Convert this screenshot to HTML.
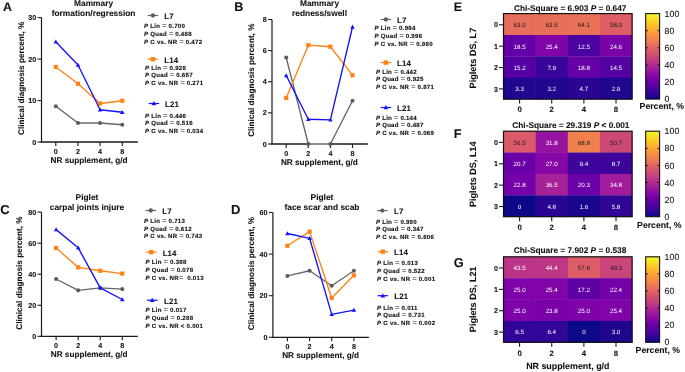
<!DOCTYPE html>
<html><head><meta charset="utf-8"><style>
html,body{margin:0;padding:0;background:#fff;}
svg{display:block;font-family:"Liberation Sans", sans-serif;will-change:transform;text-rendering:geometricPrecision;}
</style></head><body>
<svg width="685" height="372" viewBox="0 0 685 372">
<line x1="41.5" y1="17.6" x2="41.5" y2="142.6" stroke="#1a1a1a" stroke-width="1.2"/>
<line x1="40.9" y1="142" x2="137.8" y2="142" stroke="#1a1a1a" stroke-width="1.3"/>
<line x1="37.5" y1="142.00" x2="41.5" y2="142.00" stroke="#1a1a1a" stroke-width="1.1"/>
<text x="36.20" y="144.60" font-size="7.2" font-weight="bold" text-anchor="end" fill="#111" stroke="#111" stroke-width="0.08" >0</text>
<line x1="37.5" y1="100.53" x2="41.5" y2="100.53" stroke="#1a1a1a" stroke-width="1.1"/>
<text x="36.20" y="103.13" font-size="7.2" font-weight="bold" text-anchor="end" fill="#111" stroke="#111" stroke-width="0.08" >10</text>
<line x1="37.5" y1="59.07" x2="41.5" y2="59.07" stroke="#1a1a1a" stroke-width="1.1"/>
<text x="36.20" y="61.67" font-size="7.2" font-weight="bold" text-anchor="end" fill="#111" stroke="#111" stroke-width="0.08" >20</text>
<line x1="37.5" y1="17.60" x2="41.5" y2="17.60" stroke="#1a1a1a" stroke-width="1.1"/>
<text x="36.20" y="20.20" font-size="7.2" font-weight="bold" text-anchor="end" fill="#111" stroke="#111" stroke-width="0.08" >30</text>
<line x1="55.8" y1="142" x2="55.8" y2="146" stroke="#1a1a1a" stroke-width="1.1"/>
<text x="55.80" y="153.80" font-size="7.2" font-weight="bold" text-anchor="middle" fill="#111" stroke="#111" stroke-width="0.08" >0</text>
<line x1="78.0" y1="142" x2="78.0" y2="146" stroke="#1a1a1a" stroke-width="1.1"/>
<text x="78.00" y="153.80" font-size="7.2" font-weight="bold" text-anchor="middle" fill="#111" stroke="#111" stroke-width="0.08" >2</text>
<line x1="100.1" y1="142" x2="100.1" y2="146" stroke="#1a1a1a" stroke-width="1.1"/>
<text x="100.10" y="153.80" font-size="7.2" font-weight="bold" text-anchor="middle" fill="#111" stroke="#111" stroke-width="0.08" >4</text>
<line x1="122.3" y1="142" x2="122.3" y2="146" stroke="#1a1a1a" stroke-width="1.1"/>
<text x="122.30" y="153.80" font-size="7.2" font-weight="bold" text-anchor="middle" fill="#111" stroke="#111" stroke-width="0.08" >8</text>
<text x="89.05" y="162.70" font-size="8.2" font-weight="bold" text-anchor="middle" fill="#111" stroke="#111" stroke-width="0.08" >NR supplement, g/d</text>
<text transform="translate(23.70,78.30) rotate(-90)" font-size="8.2" font-weight="bold" text-anchor="middle" fill="#111" stroke="#111" stroke-width="0.08">Clinical diagnosis percent, %</text>
<text x="93.60" y="5.90" font-size="8.4" font-weight="bold" text-anchor="middle" fill="#111" stroke="#111" stroke-width="0.08" >Mammary</text>
<text x="93.60" y="15.50" font-size="8.4" font-weight="bold" text-anchor="middle" fill="#111" stroke="#111" stroke-width="0.08" >formation/regression</text>
<text x="3.00" y="10.90" font-size="12.4" font-weight="bold" text-anchor="start" fill="#111" stroke="#111" stroke-width="0.08" >A</text>
<polyline points="55.80,106.26 78.00,123.01 100.10,123.01 122.30,124.75" fill="none" stroke="#666666" stroke-width="1.35" stroke-linejoin="round"/>
<line x1="78.00" y1="123.01" x2="100.10" y2="123.01" stroke="#969696" stroke-width="1.7"/>
<circle cx="55.80" cy="106.26" r="2.05" fill="#5c5c5c"/>
<circle cx="78.00" cy="123.01" r="2.05" fill="#5c5c5c"/>
<circle cx="100.10" cy="123.01" r="2.05" fill="#5c5c5c"/>
<circle cx="122.30" cy="124.75" r="2.05" fill="#5c5c5c"/>
<polyline points="55.80,66.99 78.00,83.74 100.10,103.52 122.30,100.74" fill="none" stroke="#ff8214" stroke-width="1.35" stroke-linejoin="round"/>
<rect x="53.70" y="64.89" width="4.20" height="4.20" fill="#ff8214"/>
<rect x="75.90" y="81.64" width="4.20" height="4.20" fill="#ff8214"/>
<rect x="98.00" y="101.42" width="4.20" height="4.20" fill="#ff8214"/>
<rect x="120.20" y="98.64" width="4.20" height="4.20" fill="#ff8214"/>
<polyline points="55.80,41.78 78.00,65.00 100.10,109.74 122.30,112.27" fill="none" stroke="#1212ff" stroke-width="1.35" stroke-linejoin="round"/>
<polygon points="55.80,39.41 58.05,43.46 53.55,43.46" fill="#1212ff"/>
<polygon points="78.00,62.63 80.25,66.68 75.75,66.68" fill="#1212ff"/>
<polygon points="100.10,107.38 102.35,111.43 97.85,111.43" fill="#1212ff"/>
<polygon points="122.30,109.91 124.55,113.96 120.05,113.96" fill="#1212ff"/>
<line x1="147.7" y1="15.5" x2="158.2" y2="15.5" stroke="#666666" stroke-width="1.2"/>
<circle cx="152.90" cy="15.50" r="2.15" fill="#5c5c5c"/>
<text x="164.30" y="18.80" font-size="7.9" font-weight="bold" text-anchor="start" fill="#111" stroke="#111" stroke-width="0.08" letter-spacing="0.1">L7</text>
<text x="144.1" y="28.40" font-size="6.1" font-weight="bold" fill="#111" stroke="#111" stroke-width="0.12" letter-spacing="0.25" xml:space="preserve"><tspan font-style="italic">P</tspan> Lin <tspan font-size="7.2" font-weight="normal">=</tspan> 0.700</text>
<text x="144.1" y="36.00" font-size="6.1" font-weight="bold" fill="#111" stroke="#111" stroke-width="0.12" letter-spacing="0.25" xml:space="preserve"><tspan font-style="italic">P</tspan> Quad <tspan font-size="7.2" font-weight="normal">=</tspan> 0.488</text>
<text x="144.1" y="43.50" font-size="6.1" font-weight="bold" fill="#111" stroke="#111" stroke-width="0.12" letter-spacing="0.25" xml:space="preserve"><tspan font-style="italic">P</tspan> C vs. NR <tspan font-size="7.2" font-weight="normal">=</tspan> 0.472</text>
<line x1="147.7" y1="59.2" x2="158.2" y2="59.2" stroke="#ff8214" stroke-width="1.2"/>
<rect x="150.69" y="57.00" width="4.41" height="4.41" fill="#ff8214"/>
<text x="164.30" y="62.50" font-size="7.9" font-weight="bold" text-anchor="start" fill="#111" stroke="#111" stroke-width="0.08" letter-spacing="0.1">L14</text>
<text x="145.1" y="70.10" font-size="6.1" font-weight="bold" fill="#111" stroke="#111" stroke-width="0.12" letter-spacing="0.25" xml:space="preserve"><tspan font-style="italic">P</tspan> Lin <tspan font-size="7.2" font-weight="normal">=</tspan> 0.928</text>
<text x="145.1" y="77.25" font-size="6.1" font-weight="bold" fill="#111" stroke="#111" stroke-width="0.12" letter-spacing="0.25" xml:space="preserve"><tspan font-style="italic">P</tspan> Quad <tspan font-size="7.2" font-weight="normal">=</tspan> 0.657</text>
<text x="145.1" y="84.90" font-size="6.1" font-weight="bold" fill="#111" stroke="#111" stroke-width="0.12" letter-spacing="0.25" xml:space="preserve"><tspan font-style="italic">P</tspan> C vs. NR <tspan font-size="7.2" font-weight="normal">=</tspan> 0.271</text>
<line x1="148.7" y1="103.5" x2="159.2" y2="103.5" stroke="#1212ff" stroke-width="1.2"/>
<polygon points="153.90,101.02 156.26,105.27 151.54,105.27" fill="#1212ff"/>
<text x="165.00" y="106.80" font-size="7.9" font-weight="bold" text-anchor="start" fill="#111" stroke="#111" stroke-width="0.08" letter-spacing="0.1">L21</text>
<text x="145.1" y="117.70" font-size="6.1" font-weight="bold" fill="#111" stroke="#111" stroke-width="0.12" letter-spacing="0.25" xml:space="preserve"><tspan font-style="italic">P</tspan> Lin <tspan font-size="7.2" font-weight="normal">=</tspan> 0.446</text>
<text x="145.1" y="124.80" font-size="6.1" font-weight="bold" fill="#111" stroke="#111" stroke-width="0.12" letter-spacing="0.25" xml:space="preserve"><tspan font-style="italic">P</tspan> Quad <tspan font-size="7.2" font-weight="normal">=</tspan> 0.516</text>
<text x="145.1" y="132.50" font-size="6.1" font-weight="bold" fill="#111" stroke="#111" stroke-width="0.12" letter-spacing="0.25" xml:space="preserve"><tspan font-style="italic">P</tspan> C vs. NR <tspan font-size="7.2" font-weight="normal">=</tspan> 0.034</text>
<line x1="272" y1="19.5" x2="272" y2="144.6" stroke="#1a1a1a" stroke-width="1.2"/>
<line x1="271.4" y1="144" x2="367.8" y2="144" stroke="#1a1a1a" stroke-width="1.3"/>
<line x1="268" y1="144.00" x2="272" y2="144.00" stroke="#1a1a1a" stroke-width="1.1"/>
<text x="266.70" y="146.60" font-size="7.2" font-weight="bold" text-anchor="end" fill="#111" stroke="#111" stroke-width="0.08" >0</text>
<line x1="268" y1="112.88" x2="272" y2="112.88" stroke="#1a1a1a" stroke-width="1.1"/>
<text x="266.70" y="115.47" font-size="7.2" font-weight="bold" text-anchor="end" fill="#111" stroke="#111" stroke-width="0.08" >2</text>
<line x1="268" y1="81.75" x2="272" y2="81.75" stroke="#1a1a1a" stroke-width="1.1"/>
<text x="266.70" y="84.35" font-size="7.2" font-weight="bold" text-anchor="end" fill="#111" stroke="#111" stroke-width="0.08" >4</text>
<line x1="268" y1="50.62" x2="272" y2="50.62" stroke="#1a1a1a" stroke-width="1.1"/>
<text x="266.70" y="53.23" font-size="7.2" font-weight="bold" text-anchor="end" fill="#111" stroke="#111" stroke-width="0.08" >6</text>
<line x1="268" y1="19.50" x2="272" y2="19.50" stroke="#1a1a1a" stroke-width="1.1"/>
<text x="266.70" y="22.10" font-size="7.2" font-weight="bold" text-anchor="end" fill="#111" stroke="#111" stroke-width="0.08" >8</text>
<line x1="286.2" y1="144" x2="286.2" y2="148" stroke="#1a1a1a" stroke-width="1.1"/>
<text x="286.20" y="155.80" font-size="7.2" font-weight="bold" text-anchor="middle" fill="#111" stroke="#111" stroke-width="0.08" >0</text>
<line x1="308.3" y1="144" x2="308.3" y2="148" stroke="#1a1a1a" stroke-width="1.1"/>
<text x="308.30" y="155.80" font-size="7.2" font-weight="bold" text-anchor="middle" fill="#111" stroke="#111" stroke-width="0.08" >2</text>
<line x1="330.4" y1="144" x2="330.4" y2="148" stroke="#1a1a1a" stroke-width="1.1"/>
<text x="330.40" y="155.80" font-size="7.2" font-weight="bold" text-anchor="middle" fill="#111" stroke="#111" stroke-width="0.08" >4</text>
<line x1="352.5" y1="144" x2="352.5" y2="148" stroke="#1a1a1a" stroke-width="1.1"/>
<text x="352.50" y="155.80" font-size="7.2" font-weight="bold" text-anchor="middle" fill="#111" stroke="#111" stroke-width="0.08" >8</text>
<text x="319.35" y="164.70" font-size="8.2" font-weight="bold" text-anchor="middle" fill="#111" stroke="#111" stroke-width="0.08" >NR supplement, g/d</text>
<text transform="translate(254.10,80.20) rotate(-90)" font-size="8.2" font-weight="bold" text-anchor="middle" fill="#111" stroke="#111" stroke-width="0.08">Clinical diagnosis percent, %</text>
<text x="319.50" y="5.90" font-size="8.4" font-weight="bold" text-anchor="middle" fill="#111" stroke="#111" stroke-width="0.08" >Mammary</text>
<text x="319.50" y="15.50" font-size="8.4" font-weight="bold" text-anchor="middle" fill="#111" stroke="#111" stroke-width="0.08" >redness/swell</text>
<text x="234.30" y="10.90" font-size="12.6" font-weight="bold" text-anchor="start" fill="#111" stroke="#111" stroke-width="0.08" >B</text>
<polyline points="286.20,57.47 308.30,144.00 330.40,144.00 352.50,100.74" fill="none" stroke="#666666" stroke-width="1.35" stroke-linejoin="round"/>
<line x1="308.30" y1="144.00" x2="330.40" y2="144.00" stroke="#969696" stroke-width="1.7"/>
<circle cx="286.20" cy="57.47" r="2.05" fill="#5c5c5c"/>
<circle cx="308.30" cy="144.00" r="2.05" fill="#5c5c5c"/>
<circle cx="330.40" cy="144.00" r="2.05" fill="#5c5c5c"/>
<circle cx="352.50" cy="100.74" r="2.05" fill="#5c5c5c"/>
<polyline points="286.20,97.94 308.30,45.18 330.40,46.73 352.50,75.21" fill="none" stroke="#ff8214" stroke-width="1.35" stroke-linejoin="round"/>
<rect x="284.10" y="95.84" width="4.20" height="4.20" fill="#ff8214"/>
<rect x="306.20" y="43.08" width="4.20" height="4.20" fill="#ff8214"/>
<rect x="328.30" y="44.63" width="4.20" height="4.20" fill="#ff8214"/>
<rect x="350.40" y="73.11" width="4.20" height="4.20" fill="#ff8214"/>
<polyline points="286.20,75.52 308.30,119.26 330.40,119.88 352.50,26.97" fill="none" stroke="#1212ff" stroke-width="1.35" stroke-linejoin="round"/>
<polygon points="286.20,73.16 288.45,77.21 283.95,77.21" fill="#1212ff"/>
<polygon points="308.30,116.89 310.55,120.94 306.05,120.94" fill="#1212ff"/>
<polygon points="330.40,117.52 332.65,121.57 328.15,121.57" fill="#1212ff"/>
<polygon points="352.50,24.61 354.75,28.66 350.25,28.66" fill="#1212ff"/>
<line x1="380.7" y1="19.5" x2="391.2" y2="19.5" stroke="#666666" stroke-width="1.2"/>
<circle cx="385.90" cy="19.50" r="2.15" fill="#5c5c5c"/>
<text x="397.10" y="22.80" font-size="7.9" font-weight="bold" text-anchor="start" fill="#111" stroke="#111" stroke-width="0.08" letter-spacing="0.1">L7</text>
<text x="374.6" y="30.10" font-size="6.1" font-weight="bold" fill="#111" stroke="#111" stroke-width="0.12" letter-spacing="0.25" xml:space="preserve"><tspan font-style="italic">P</tspan> Lin <tspan font-size="7.2" font-weight="normal">=</tspan> 0.984</text>
<text x="374.6" y="37.80" font-size="6.1" font-weight="bold" fill="#111" stroke="#111" stroke-width="0.12" letter-spacing="0.25" xml:space="preserve"><tspan font-style="italic">P</tspan> Quad <tspan font-size="7.2" font-weight="normal">=</tspan> 0.996</text>
<text x="374.6" y="45.50" font-size="6.1" font-weight="bold" fill="#111" stroke="#111" stroke-width="0.12" letter-spacing="0.25" xml:space="preserve"><tspan font-style="italic">P</tspan> C vs. NR <tspan font-size="7.2" font-weight="normal">=</tspan> 0.980</text>
<line x1="380.7" y1="62.599999999999994" x2="391.2" y2="62.599999999999994" stroke="#ff8214" stroke-width="1.2"/>
<rect x="383.69" y="60.39" width="4.41" height="4.41" fill="#ff8214"/>
<text x="397.10" y="65.90" font-size="7.9" font-weight="bold" text-anchor="start" fill="#111" stroke="#111" stroke-width="0.08" letter-spacing="0.1">L14</text>
<text x="375.9" y="73.60" font-size="6.1" font-weight="bold" fill="#111" stroke="#111" stroke-width="0.12" letter-spacing="0.25" xml:space="preserve"><tspan font-style="italic">P</tspan> Lin <tspan font-size="7.2" font-weight="normal">=</tspan> 0.442</text>
<text x="375.9" y="80.60" font-size="6.1" font-weight="bold" fill="#111" stroke="#111" stroke-width="0.12" letter-spacing="0.25" xml:space="preserve"><tspan font-style="italic">P</tspan> Quad <tspan font-size="7.2" font-weight="normal">=</tspan> 0.925</text>
<text x="375.9" y="88.50" font-size="6.1" font-weight="bold" fill="#111" stroke="#111" stroke-width="0.12" letter-spacing="0.25" xml:space="preserve"><tspan font-style="italic">P</tspan> C vs. NR <tspan font-size="7.2" font-weight="normal">=</tspan> 0.871</text>
<line x1="380.7" y1="107.5" x2="391.2" y2="107.5" stroke="#1212ff" stroke-width="1.2"/>
<polygon points="385.90,105.02 388.26,109.27 383.54,109.27" fill="#1212ff"/>
<text x="397.10" y="110.80" font-size="7.9" font-weight="bold" text-anchor="start" fill="#111" stroke="#111" stroke-width="0.08" letter-spacing="0.1">L21</text>
<text x="375.9" y="119.60" font-size="6.1" font-weight="bold" fill="#111" stroke="#111" stroke-width="0.12" letter-spacing="0.25" xml:space="preserve"><tspan font-style="italic">P</tspan> Lin <tspan font-size="7.2" font-weight="normal">=</tspan> 0.144</text>
<text x="375.9" y="127.00" font-size="6.1" font-weight="bold" fill="#111" stroke="#111" stroke-width="0.12" letter-spacing="0.25" xml:space="preserve"><tspan font-style="italic">P</tspan> Quad <tspan font-size="7.2" font-weight="normal">=</tspan> 0.487</text>
<text x="375.9" y="134.50" font-size="6.1" font-weight="bold" fill="#111" stroke="#111" stroke-width="0.12" letter-spacing="0.25" xml:space="preserve"><tspan font-style="italic">P</tspan> C vs. NR <tspan font-size="7.2" font-weight="normal">=</tspan> 0.069</text>
<line x1="41.5" y1="212.1" x2="41.5" y2="336.90000000000003" stroke="#1a1a1a" stroke-width="1.2"/>
<line x1="40.9" y1="336.3" x2="137.8" y2="336.3" stroke="#1a1a1a" stroke-width="1.3"/>
<line x1="37.5" y1="336.30" x2="41.5" y2="336.30" stroke="#1a1a1a" stroke-width="1.1"/>
<text x="36.20" y="338.90" font-size="7.2" font-weight="bold" text-anchor="end" fill="#111" stroke="#111" stroke-width="0.08" >0</text>
<line x1="37.5" y1="305.25" x2="41.5" y2="305.25" stroke="#1a1a1a" stroke-width="1.1"/>
<text x="36.20" y="307.85" font-size="7.2" font-weight="bold" text-anchor="end" fill="#111" stroke="#111" stroke-width="0.08" >20</text>
<line x1="37.5" y1="274.20" x2="41.5" y2="274.20" stroke="#1a1a1a" stroke-width="1.1"/>
<text x="36.20" y="276.80" font-size="7.2" font-weight="bold" text-anchor="end" fill="#111" stroke="#111" stroke-width="0.08" >40</text>
<line x1="37.5" y1="243.15" x2="41.5" y2="243.15" stroke="#1a1a1a" stroke-width="1.1"/>
<text x="36.20" y="245.75" font-size="7.2" font-weight="bold" text-anchor="end" fill="#111" stroke="#111" stroke-width="0.08" >60</text>
<line x1="37.5" y1="212.10" x2="41.5" y2="212.10" stroke="#1a1a1a" stroke-width="1.1"/>
<text x="36.20" y="214.70" font-size="7.2" font-weight="bold" text-anchor="end" fill="#111" stroke="#111" stroke-width="0.08" >80</text>
<line x1="56.1" y1="336.3" x2="56.1" y2="340.3" stroke="#1a1a1a" stroke-width="1.1"/>
<text x="56.10" y="348.10" font-size="7.2" font-weight="bold" text-anchor="middle" fill="#111" stroke="#111" stroke-width="0.08" >0</text>
<line x1="78.2" y1="336.3" x2="78.2" y2="340.3" stroke="#1a1a1a" stroke-width="1.1"/>
<text x="78.20" y="348.10" font-size="7.2" font-weight="bold" text-anchor="middle" fill="#111" stroke="#111" stroke-width="0.08" >2</text>
<line x1="100.2" y1="336.3" x2="100.2" y2="340.3" stroke="#1a1a1a" stroke-width="1.1"/>
<text x="100.20" y="348.10" font-size="7.2" font-weight="bold" text-anchor="middle" fill="#111" stroke="#111" stroke-width="0.08" >4</text>
<line x1="122.3" y1="336.3" x2="122.3" y2="340.3" stroke="#1a1a1a" stroke-width="1.1"/>
<text x="122.30" y="348.10" font-size="7.2" font-weight="bold" text-anchor="middle" fill="#111" stroke="#111" stroke-width="0.08" >8</text>
<text x="89.20" y="357.00" font-size="8.2" font-weight="bold" text-anchor="middle" fill="#111" stroke="#111" stroke-width="0.08" >NR supplement, g/d</text>
<text transform="translate(21.90,273.10) rotate(-90)" font-size="8.2" font-weight="bold" text-anchor="middle" fill="#111" stroke="#111" stroke-width="0.08">Clinical diagnosis percent, %</text>
<text x="87.00" y="200.00" font-size="8.4" font-weight="bold" text-anchor="middle" fill="#111" stroke="#111" stroke-width="0.08" >Piglet</text>
<text x="87.00" y="209.60" font-size="8.4" font-weight="bold" text-anchor="middle" fill="#111" stroke="#111" stroke-width="0.08" >carpal joints injure</text>
<text x="0.30" y="213.60" font-size="13" font-weight="bold" text-anchor="start" fill="#111" stroke="#111" stroke-width="0.08" >C</text>
<polyline points="56.10,279.01 78.20,290.35 100.20,287.86 122.30,289.10" fill="none" stroke="#666666" stroke-width="1.35" stroke-linejoin="round"/>
<circle cx="56.10" cy="279.01" r="2.05" fill="#5c5c5c"/>
<circle cx="78.20" cy="290.35" r="2.05" fill="#5c5c5c"/>
<circle cx="100.20" cy="287.86" r="2.05" fill="#5c5c5c"/>
<circle cx="122.30" cy="289.10" r="2.05" fill="#5c5c5c"/>
<polyline points="56.10,247.96 78.20,267.37 100.20,270.78 122.30,273.58" fill="none" stroke="#ff8214" stroke-width="1.35" stroke-linejoin="round"/>
<rect x="54.00" y="245.86" width="4.20" height="4.20" fill="#ff8214"/>
<rect x="76.10" y="265.27" width="4.20" height="4.20" fill="#ff8214"/>
<rect x="98.10" y="268.68" width="4.20" height="4.20" fill="#ff8214"/>
<rect x="120.20" y="271.48" width="4.20" height="4.20" fill="#ff8214"/>
<polyline points="56.10,229.64 78.20,247.81 100.20,287.86 122.30,299.51" fill="none" stroke="#1212ff" stroke-width="1.35" stroke-linejoin="round"/>
<polygon points="56.10,227.28 58.35,231.33 53.85,231.33" fill="#1212ff"/>
<polygon points="78.20,245.44 80.45,249.50 75.95,249.50" fill="#1212ff"/>
<polygon points="100.20,285.50 102.45,289.55 97.95,289.55" fill="#1212ff"/>
<polygon points="122.30,297.14 124.55,301.19 120.05,301.19" fill="#1212ff"/>
<line x1="145.6" y1="210.5" x2="156.1" y2="210.5" stroke="#666666" stroke-width="1.2"/>
<circle cx="150.80" cy="210.50" r="2.15" fill="#5c5c5c"/>
<text x="162.30" y="213.80" font-size="7.9" font-weight="bold" text-anchor="start" fill="#111" stroke="#111" stroke-width="0.08" letter-spacing="0.1">L7</text>
<text x="144.1" y="222.90" font-size="6.1" font-weight="bold" fill="#111" stroke="#111" stroke-width="0.12" letter-spacing="0.25" xml:space="preserve"><tspan font-style="italic">P</tspan> Lin <tspan font-size="7.2" font-weight="normal">=</tspan> 0.713</text>
<text x="144.1" y="230.50" font-size="6.1" font-weight="bold" fill="#111" stroke="#111" stroke-width="0.12" letter-spacing="0.25" xml:space="preserve"><tspan font-style="italic">P</tspan> Quad <tspan font-size="7.2" font-weight="normal">=</tspan> 0.612</text>
<text x="144.1" y="238.00" font-size="6.1" font-weight="bold" fill="#111" stroke="#111" stroke-width="0.12" letter-spacing="0.25" xml:space="preserve"><tspan font-style="italic">P</tspan> C vs. NR <tspan font-size="7.2" font-weight="normal">=</tspan> 0.743</text>
<line x1="146.1" y1="252.2" x2="156.6" y2="252.2" stroke="#ff8214" stroke-width="1.2"/>
<rect x="149.09" y="249.99" width="4.41" height="4.41" fill="#ff8214"/>
<text x="162.70" y="255.50" font-size="7.9" font-weight="bold" text-anchor="start" fill="#111" stroke="#111" stroke-width="0.08" letter-spacing="0.1">L14</text>
<text x="145.6" y="264.40" font-size="6.1" font-weight="bold" fill="#111" stroke="#111" stroke-width="0.12" letter-spacing="0.25" xml:space="preserve"><tspan font-style="italic">P</tspan> Lin <tspan font-size="7.2" font-weight="normal">=</tspan> 0.388</text>
<text x="145.6" y="272.30" font-size="6.1" font-weight="bold" fill="#111" stroke="#111" stroke-width="0.12" letter-spacing="0.25" xml:space="preserve"><tspan font-style="italic">P</tspan> Quad <tspan font-size="7.2" font-weight="normal">=</tspan> 0.078</text>
<text x="145.6" y="280.00" font-size="6.1" font-weight="bold" fill="#111" stroke="#111" stroke-width="0.12" letter-spacing="0.25" xml:space="preserve"><tspan font-style="italic">P</tspan> C vs. NR<tspan font-size="7.2" font-weight="normal">=</tspan>  0.013</text>
<line x1="147" y1="300.2" x2="157.5" y2="300.2" stroke="#1212ff" stroke-width="1.2"/>
<polygon points="152.20,297.72 154.56,301.97 149.84,301.97" fill="#1212ff"/>
<text x="164.00" y="303.50" font-size="7.9" font-weight="bold" text-anchor="start" fill="#111" stroke="#111" stroke-width="0.08" letter-spacing="0.1">L21</text>
<text x="145.6" y="312.10" font-size="6.1" font-weight="bold" fill="#111" stroke="#111" stroke-width="0.12" letter-spacing="0.25" xml:space="preserve"><tspan font-style="italic">P</tspan> Lin <tspan font-size="7.2" font-weight="normal">=</tspan> 0.017</text>
<text x="145.6" y="320.10" font-size="6.1" font-weight="bold" fill="#111" stroke="#111" stroke-width="0.12" letter-spacing="0.25" xml:space="preserve"><tspan font-style="italic">P</tspan> Quad <tspan font-size="7.2" font-weight="normal">=</tspan> 0.288</text>
<text x="145.6" y="327.50" font-size="6.1" font-weight="bold" fill="#111" stroke="#111" stroke-width="0.12" letter-spacing="0.25" xml:space="preserve"><tspan font-style="italic">P</tspan> C vs. NR < 0.001</text>
<line x1="272.9" y1="212.5" x2="272.9" y2="337.90000000000003" stroke="#1a1a1a" stroke-width="1.2"/>
<line x1="272.29999999999995" y1="337.3" x2="368.9" y2="337.3" stroke="#1a1a1a" stroke-width="1.3"/>
<line x1="268.9" y1="337.30" x2="272.9" y2="337.30" stroke="#1a1a1a" stroke-width="1.1"/>
<text x="267.60" y="339.90" font-size="7.2" font-weight="bold" text-anchor="end" fill="#111" stroke="#111" stroke-width="0.08" >0</text>
<line x1="268.9" y1="295.70" x2="272.9" y2="295.70" stroke="#1a1a1a" stroke-width="1.1"/>
<text x="267.60" y="298.30" font-size="7.2" font-weight="bold" text-anchor="end" fill="#111" stroke="#111" stroke-width="0.08" >20</text>
<line x1="268.9" y1="254.10" x2="272.9" y2="254.10" stroke="#1a1a1a" stroke-width="1.1"/>
<text x="267.60" y="256.70" font-size="7.2" font-weight="bold" text-anchor="end" fill="#111" stroke="#111" stroke-width="0.08" >40</text>
<line x1="268.9" y1="212.50" x2="272.9" y2="212.50" stroke="#1a1a1a" stroke-width="1.1"/>
<text x="267.60" y="215.10" font-size="7.2" font-weight="bold" text-anchor="end" fill="#111" stroke="#111" stroke-width="0.08" >60</text>
<line x1="287.4" y1="337.3" x2="287.4" y2="341.3" stroke="#1a1a1a" stroke-width="1.1"/>
<text x="287.40" y="349.10" font-size="7.2" font-weight="bold" text-anchor="middle" fill="#111" stroke="#111" stroke-width="0.08" >0</text>
<line x1="309.6" y1="337.3" x2="309.6" y2="341.3" stroke="#1a1a1a" stroke-width="1.1"/>
<text x="309.60" y="349.10" font-size="7.2" font-weight="bold" text-anchor="middle" fill="#111" stroke="#111" stroke-width="0.08" >2</text>
<line x1="331.7" y1="337.3" x2="331.7" y2="341.3" stroke="#1a1a1a" stroke-width="1.1"/>
<text x="331.70" y="349.10" font-size="7.2" font-weight="bold" text-anchor="middle" fill="#111" stroke="#111" stroke-width="0.08" >4</text>
<line x1="353.9" y1="337.3" x2="353.9" y2="341.3" stroke="#1a1a1a" stroke-width="1.1"/>
<text x="353.90" y="349.10" font-size="7.2" font-weight="bold" text-anchor="middle" fill="#111" stroke="#111" stroke-width="0.08" >8</text>
<text x="320.65" y="358.00" font-size="8.2" font-weight="bold" text-anchor="middle" fill="#111" stroke="#111" stroke-width="0.08" >NR supplement, g/d</text>
<text transform="translate(253.70,273.50) rotate(-90)" font-size="8.2" font-weight="bold" text-anchor="middle" fill="#111" stroke="#111" stroke-width="0.08">Clinical diagnosis percent, %</text>
<text x="322.00" y="200.00" font-size="8.4" font-weight="bold" text-anchor="middle" fill="#111" stroke="#111" stroke-width="0.08" >Piglet</text>
<text x="322.00" y="209.60" font-size="8.4" font-weight="bold" text-anchor="middle" fill="#111" stroke="#111" stroke-width="0.08" >face scar and scab</text>
<text x="231.00" y="213.60" font-size="13" font-weight="bold" text-anchor="start" fill="#111" stroke="#111" stroke-width="0.08" >D</text>
<polyline points="287.40,275.94 309.60,270.74 331.70,285.72 353.90,270.74" fill="none" stroke="#666666" stroke-width="1.35" stroke-linejoin="round"/>
<circle cx="287.40" cy="275.94" r="2.05" fill="#5c5c5c"/>
<circle cx="309.60" cy="270.74" r="2.05" fill="#5c5c5c"/>
<circle cx="331.70" cy="285.72" r="2.05" fill="#5c5c5c"/>
<circle cx="353.90" cy="270.74" r="2.05" fill="#5c5c5c"/>
<polyline points="287.40,245.78 309.60,231.64 331.70,297.99 353.90,275.32" fill="none" stroke="#ff8214" stroke-width="1.35" stroke-linejoin="round"/>
<rect x="285.30" y="243.68" width="4.20" height="4.20" fill="#ff8214"/>
<rect x="307.50" y="229.54" width="4.20" height="4.20" fill="#ff8214"/>
<rect x="329.60" y="295.89" width="4.20" height="4.20" fill="#ff8214"/>
<rect x="351.80" y="273.22" width="4.20" height="4.20" fill="#ff8214"/>
<polyline points="287.40,233.51 309.60,238.29 331.70,314.42 353.90,310.05" fill="none" stroke="#1212ff" stroke-width="1.35" stroke-linejoin="round"/>
<polygon points="287.40,231.15 289.65,235.20 285.15,235.20" fill="#1212ff"/>
<polygon points="309.60,235.93 311.85,239.98 307.35,239.98" fill="#1212ff"/>
<polygon points="331.70,312.06 333.95,316.11 329.45,316.11" fill="#1212ff"/>
<polygon points="353.90,307.69 356.15,311.74 351.65,311.74" fill="#1212ff"/>
<line x1="377.1" y1="210.6" x2="387.6" y2="210.6" stroke="#666666" stroke-width="1.2"/>
<circle cx="382.30" cy="210.60" r="2.15" fill="#5c5c5c"/>
<text x="394.00" y="213.90" font-size="7.9" font-weight="bold" text-anchor="start" fill="#111" stroke="#111" stroke-width="0.08" letter-spacing="0.1">L7</text>
<text x="375.9" y="224.10" font-size="6.1" font-weight="bold" fill="#111" stroke="#111" stroke-width="0.12" letter-spacing="0.25" xml:space="preserve"><tspan font-style="italic">P</tspan> Lin <tspan font-size="7.2" font-weight="normal">=</tspan> 0.990</text>
<text x="375.9" y="231.40" font-size="6.1" font-weight="bold" fill="#111" stroke="#111" stroke-width="0.12" letter-spacing="0.25" xml:space="preserve"><tspan font-style="italic">P</tspan> Quad <tspan font-size="7.2" font-weight="normal">=</tspan> 0.347</text>
<text x="375.9" y="239.10" font-size="6.1" font-weight="bold" fill="#111" stroke="#111" stroke-width="0.12" letter-spacing="0.25" xml:space="preserve"><tspan font-style="italic">P</tspan> C vs. NR <tspan font-size="7.2" font-weight="normal">=</tspan> 0.606</text>
<line x1="377.6" y1="251.7" x2="388.1" y2="251.7" stroke="#ff8214" stroke-width="1.2"/>
<rect x="380.60" y="249.49" width="4.41" height="4.41" fill="#ff8214"/>
<text x="394.00" y="255.00" font-size="7.9" font-weight="bold" text-anchor="start" fill="#111" stroke="#111" stroke-width="0.08" letter-spacing="0.1">L14</text>
<text x="377.1" y="265.20" font-size="6.1" font-weight="bold" fill="#111" stroke="#111" stroke-width="0.12" letter-spacing="0.25" xml:space="preserve"><tspan font-style="italic">P</tspan> Lin <tspan font-size="7.2" font-weight="normal">=</tspan> 0.013</text>
<text x="377.1" y="272.90" font-size="6.1" font-weight="bold" fill="#111" stroke="#111" stroke-width="0.12" letter-spacing="0.25" xml:space="preserve"><tspan font-style="italic">P</tspan> Quad <tspan font-size="7.2" font-weight="normal">=</tspan> 0.522</text>
<text x="377.1" y="280.60" font-size="6.1" font-weight="bold" fill="#111" stroke="#111" stroke-width="0.12" letter-spacing="0.25" xml:space="preserve"><tspan font-style="italic">P</tspan> C vs. NR <tspan font-size="7.2" font-weight="normal">=</tspan> 0.001</text>
<line x1="377.6" y1="295.7" x2="388.1" y2="295.7" stroke="#1212ff" stroke-width="1.2"/>
<polygon points="382.80,293.22 385.16,297.47 380.44,297.47" fill="#1212ff"/>
<text x="394.30" y="299.00" font-size="7.9" font-weight="bold" text-anchor="start" fill="#111" stroke="#111" stroke-width="0.08" letter-spacing="0.1">L21</text>
<text x="377.1" y="309.80" font-size="6.1" font-weight="bold" fill="#111" stroke="#111" stroke-width="0.12" letter-spacing="0.25" xml:space="preserve"><tspan font-style="italic">P</tspan> Lin <tspan font-size="7.2" font-weight="normal">=</tspan> 0.011</text>
<text x="377.1" y="316.90" font-size="6.1" font-weight="bold" fill="#111" stroke="#111" stroke-width="0.12" letter-spacing="0.25" xml:space="preserve"><tspan font-style="italic">P</tspan> Quad <tspan font-size="7.2" font-weight="normal">=</tspan> 0.731</text>
<text x="377.1" y="324.60" font-size="6.1" font-weight="bold" fill="#111" stroke="#111" stroke-width="0.12" letter-spacing="0.25" xml:space="preserve"><tspan font-style="italic">P</tspan> C vs. NR <tspan font-size="7.2" font-weight="normal">=</tspan> 0.002</text>
<defs><linearGradient id="pl" x1="0" y1="1" x2="0" y2="0">
<stop offset="0%" stop-color="#0d0887"/>
<stop offset="5%" stop-color="#2a0593"/>
<stop offset="10%" stop-color="#41049d"/>
<stop offset="15%" stop-color="#5601a4"/>
<stop offset="20%" stop-color="#6a00a8"/>
<stop offset="25%" stop-color="#7e03a8"/>
<stop offset="30%" stop-color="#8f0da4"/>
<stop offset="35%" stop-color="#a11b9b"/>
<stop offset="40%" stop-color="#b12a90"/>
<stop offset="45%" stop-color="#bf3984"/>
<stop offset="50%" stop-color="#cc4778"/>
<stop offset="55%" stop-color="#d6556d"/>
<stop offset="60%" stop-color="#e16462"/>
<stop offset="65%" stop-color="#ea7457"/>
<stop offset="70%" stop-color="#f2844b"/>
<stop offset="75%" stop-color="#f89540"/>
<stop offset="80%" stop-color="#fca636"/>
<stop offset="85%" stop-color="#feba2c"/>
<stop offset="90%" stop-color="#fcce25"/>
<stop offset="95%" stop-color="#f7e425"/>
<stop offset="100%" stop-color="#f0f921"/>
</linearGradient></defs>
<rect x="503.50" y="13.60" width="32.45" height="21.68" fill="#e76e5b"/>
<rect x="535.65" y="13.60" width="32.45" height="21.68" fill="#e76f5a"/>
<rect x="567.80" y="13.60" width="32.45" height="21.68" fill="#e97158"/>
<rect x="599.95" y="13.60" width="32.45" height="21.68" fill="#dd5e66"/>
<rect x="503.50" y="34.98" width="32.45" height="21.68" fill="#6400a7"/>
<rect x="535.65" y="34.98" width="32.45" height="21.68" fill="#8004a8"/>
<rect x="567.80" y="34.98" width="32.45" height="21.68" fill="#4c02a1"/>
<rect x="599.95" y="34.98" width="32.45" height="21.68" fill="#7b02a8"/>
<rect x="503.50" y="56.35" width="32.45" height="21.68" fill="#5601a4"/>
<rect x="535.65" y="56.35" width="32.45" height="21.68" fill="#38049a"/>
<rect x="567.80" y="56.35" width="32.45" height="21.68" fill="#6600a7"/>
<rect x="599.95" y="56.35" width="32.45" height="21.68" fill="#5502a4"/>
<rect x="503.50" y="77.72" width="32.45" height="21.68" fill="#220690"/>
<rect x="535.65" y="77.72" width="32.45" height="21.68" fill="#220690"/>
<rect x="567.80" y="77.72" width="32.45" height="21.68" fill="#2a0593"/>
<rect x="599.95" y="77.72" width="32.45" height="21.68" fill="#20068f"/>
<text x="519.58" y="27.14" font-size="6.25" font-weight="normal" text-anchor="middle" fill="#1a1a1a"  >63.0</text>
<text x="551.73" y="27.14" font-size="6.25" font-weight="normal" text-anchor="middle" fill="#1a1a1a"  >63.5</text>
<text x="583.88" y="27.14" font-size="6.25" font-weight="normal" text-anchor="middle" fill="#1a1a1a"  >64.1</text>
<text x="616.02" y="27.14" font-size="6.25" font-weight="normal" text-anchor="middle" fill="#1a1a1a"  >58.0</text>
<text x="519.58" y="48.51" font-size="6.25" font-weight="normal" text-anchor="middle" fill="#ffffff"  >18.5</text>
<text x="551.73" y="48.51" font-size="6.25" font-weight="normal" text-anchor="middle" fill="#ffffff"  >25.4</text>
<text x="583.88" y="48.51" font-size="6.25" font-weight="normal" text-anchor="middle" fill="#ffffff"  >12.5</text>
<text x="616.02" y="48.51" font-size="6.25" font-weight="normal" text-anchor="middle" fill="#ffffff"  >24.6</text>
<text x="519.58" y="69.89" font-size="6.25" font-weight="normal" text-anchor="middle" fill="#ffffff"  >15.2</text>
<text x="551.73" y="69.89" font-size="6.25" font-weight="normal" text-anchor="middle" fill="#ffffff"  >7.9</text>
<text x="583.88" y="69.89" font-size="6.25" font-weight="normal" text-anchor="middle" fill="#ffffff"  >18.8</text>
<text x="616.02" y="69.89" font-size="6.25" font-weight="normal" text-anchor="middle" fill="#ffffff"  >14.5</text>
<text x="519.58" y="91.26" font-size="6.25" font-weight="normal" text-anchor="middle" fill="#ffffff"  >3.3</text>
<text x="551.73" y="91.26" font-size="6.25" font-weight="normal" text-anchor="middle" fill="#ffffff"  >3.2</text>
<text x="583.88" y="91.26" font-size="6.25" font-weight="normal" text-anchor="middle" fill="#ffffff"  >4.7</text>
<text x="616.02" y="91.26" font-size="6.25" font-weight="normal" text-anchor="middle" fill="#ffffff"  >2.9</text>
<rect x="503.5" y="13.6" width="128.60000000000002" height="85.5" fill="none" stroke="#111" stroke-width="1.2"/>
<line x1="499.0" y1="24.79" x2="503.5" y2="24.79" stroke="#1a1a1a" stroke-width="1.1"/>
<text x="498.00" y="27.39" font-size="7.2" font-weight="bold" text-anchor="end" fill="#111" stroke="#111" stroke-width="0.08" >0</text>
<line x1="499.0" y1="46.16" x2="503.5" y2="46.16" stroke="#1a1a1a" stroke-width="1.1"/>
<text x="498.00" y="48.76" font-size="7.2" font-weight="bold" text-anchor="end" fill="#111" stroke="#111" stroke-width="0.08" >1</text>
<line x1="499.0" y1="67.54" x2="503.5" y2="67.54" stroke="#1a1a1a" stroke-width="1.1"/>
<text x="498.00" y="70.14" font-size="7.2" font-weight="bold" text-anchor="end" fill="#111" stroke="#111" stroke-width="0.08" >2</text>
<line x1="499.0" y1="88.91" x2="503.5" y2="88.91" stroke="#1a1a1a" stroke-width="1.1"/>
<text x="498.00" y="91.51" font-size="7.2" font-weight="bold" text-anchor="end" fill="#111" stroke="#111" stroke-width="0.08" >3</text>
<line x1="519.58" y1="99.1" x2="519.58" y2="103.6" stroke="#1a1a1a" stroke-width="1.1"/>
<text x="519.58" y="112.30" font-size="7.8" font-weight="bold" text-anchor="middle" fill="#111" stroke="#111" stroke-width="0.08" >0</text>
<line x1="551.73" y1="99.1" x2="551.73" y2="103.6" stroke="#1a1a1a" stroke-width="1.1"/>
<text x="551.73" y="112.30" font-size="7.8" font-weight="bold" text-anchor="middle" fill="#111" stroke="#111" stroke-width="0.08" >2</text>
<line x1="583.88" y1="99.1" x2="583.88" y2="103.6" stroke="#1a1a1a" stroke-width="1.1"/>
<text x="583.88" y="112.30" font-size="7.8" font-weight="bold" text-anchor="middle" fill="#111" stroke="#111" stroke-width="0.08" >4</text>
<line x1="616.02" y1="99.1" x2="616.02" y2="103.6" stroke="#1a1a1a" stroke-width="1.1"/>
<text x="616.02" y="112.30" font-size="7.8" font-weight="bold" text-anchor="middle" fill="#111" stroke="#111" stroke-width="0.08" >8</text>
<text x="513.90" y="10.70" font-size="8.3" font-weight="bold" text-anchor="start" fill="#111" stroke="#111" stroke-width="0.08" >Chi-Square = 6.903 <tspan font-style="italic">P</tspan> = 0.647</text>
<text transform="translate(476.10,58.10) rotate(-90)" font-size="9.1" font-weight="bold" text-anchor="middle" fill="#111" stroke="#111" stroke-width="0.08">Piglets DS, L7</text>
<text x="453.80" y="10.80" font-size="12.4" font-weight="bold" text-anchor="start" fill="#111" stroke="#111" stroke-width="0.08" >E</text>
<rect x="645.7" y="13.6" width="13.899999999999977" height="85.5" fill="url(#pl)" stroke="#111" stroke-width="1.1"/>
<text x="664.60" y="102.20" font-size="8.8" font-weight="normal" text-anchor="start" fill="#1a1a1a" stroke="#1a1a1a" stroke-width="0.12" >0</text>
<line x1="645.7" y1="82.00" x2="647.7" y2="82.00" stroke="#111" stroke-width="1"/>
<line x1="657.6" y1="82.00" x2="659.6" y2="82.00" stroke="#111" stroke-width="1"/>
<text x="664.60" y="85.10" font-size="8.8" font-weight="normal" text-anchor="start" fill="#1a1a1a" stroke="#1a1a1a" stroke-width="0.12" >20</text>
<line x1="645.7" y1="64.90" x2="647.7" y2="64.90" stroke="#111" stroke-width="1"/>
<line x1="657.6" y1="64.90" x2="659.6" y2="64.90" stroke="#111" stroke-width="1"/>
<text x="664.60" y="68.00" font-size="8.8" font-weight="normal" text-anchor="start" fill="#1a1a1a" stroke="#1a1a1a" stroke-width="0.12" >40</text>
<line x1="645.7" y1="47.80" x2="647.7" y2="47.80" stroke="#111" stroke-width="1"/>
<line x1="657.6" y1="47.80" x2="659.6" y2="47.80" stroke="#111" stroke-width="1"/>
<text x="664.60" y="50.90" font-size="8.8" font-weight="normal" text-anchor="start" fill="#1a1a1a" stroke="#1a1a1a" stroke-width="0.12" >60</text>
<line x1="645.7" y1="30.70" x2="647.7" y2="30.70" stroke="#111" stroke-width="1"/>
<line x1="657.6" y1="30.70" x2="659.6" y2="30.70" stroke="#111" stroke-width="1"/>
<text x="664.60" y="33.80" font-size="8.8" font-weight="normal" text-anchor="start" fill="#1a1a1a" stroke="#1a1a1a" stroke-width="0.12" >80</text>
<text x="664.60" y="16.70" font-size="8.8" font-weight="normal" text-anchor="start" fill="#1a1a1a" stroke="#1a1a1a" stroke-width="0.12" >100</text>
<text x="639.60" y="108.60" font-size="8.7" font-weight="bold" text-anchor="start" fill="#111" stroke="#111" stroke-width="0.08" >Percent, %</text>
<rect x="503.50" y="131.20" width="32.45" height="21.68" fill="#da5a6a"/>
<rect x="535.65" y="131.20" width="32.45" height="21.68" fill="#9613a1"/>
<rect x="567.80" y="131.20" width="32.45" height="21.68" fill="#f0804e"/>
<rect x="599.95" y="131.20" width="32.45" height="21.68" fill="#cc4977"/>
<rect x="503.50" y="152.57" width="32.45" height="21.68" fill="#6c00a8"/>
<rect x="535.65" y="152.57" width="32.45" height="21.68" fill="#8606a6"/>
<rect x="567.80" y="152.57" width="32.45" height="21.68" fill="#3f049c"/>
<rect x="599.95" y="152.57" width="32.45" height="21.68" fill="#3c049b"/>
<rect x="503.50" y="173.95" width="32.45" height="21.68" fill="#7501a8"/>
<rect x="535.65" y="173.95" width="32.45" height="21.68" fill="#a62098"/>
<rect x="567.80" y="173.95" width="32.45" height="21.68" fill="#6a00a8"/>
<rect x="599.95" y="173.95" width="32.45" height="21.68" fill="#a11b9b"/>
<rect x="503.50" y="195.32" width="32.45" height="21.68" fill="#0d0887"/>
<rect x="535.65" y="195.32" width="32.45" height="21.68" fill="#2a0593"/>
<rect x="567.80" y="195.32" width="32.45" height="21.68" fill="#19068c"/>
<rect x="599.95" y="195.32" width="32.45" height="21.68" fill="#2e0595"/>
<text x="519.58" y="144.74" font-size="6.25" font-weight="normal" text-anchor="middle" fill="#1a1a1a"  >56.5</text>
<text x="551.73" y="144.74" font-size="6.25" font-weight="normal" text-anchor="middle" fill="#ffffff"  >31.8</text>
<text x="583.88" y="144.74" font-size="6.25" font-weight="normal" text-anchor="middle" fill="#1a1a1a"  >68.8</text>
<text x="616.02" y="144.74" font-size="6.25" font-weight="normal" text-anchor="middle" fill="#1a1a1a"  >50.7</text>
<text x="519.58" y="166.11" font-size="6.25" font-weight="normal" text-anchor="middle" fill="#ffffff"  >20.7</text>
<text x="551.73" y="166.11" font-size="6.25" font-weight="normal" text-anchor="middle" fill="#ffffff"  >27.0</text>
<text x="583.88" y="166.11" font-size="6.25" font-weight="normal" text-anchor="middle" fill="#ffffff"  >9.4</text>
<text x="616.02" y="166.11" font-size="6.25" font-weight="normal" text-anchor="middle" fill="#ffffff"  >8.7</text>
<text x="519.58" y="187.49" font-size="6.25" font-weight="normal" text-anchor="middle" fill="#ffffff"  >22.8</text>
<text x="551.73" y="187.49" font-size="6.25" font-weight="normal" text-anchor="middle" fill="#ffffff"  >36.5</text>
<text x="583.88" y="187.49" font-size="6.25" font-weight="normal" text-anchor="middle" fill="#ffffff"  >20.3</text>
<text x="616.02" y="187.49" font-size="6.25" font-weight="normal" text-anchor="middle" fill="#ffffff"  >34.8</text>
<text x="519.58" y="208.86" font-size="6.25" font-weight="normal" text-anchor="middle" fill="#ffffff"  >0</text>
<text x="551.73" y="208.86" font-size="6.25" font-weight="normal" text-anchor="middle" fill="#ffffff"  >4.8</text>
<text x="583.88" y="208.86" font-size="6.25" font-weight="normal" text-anchor="middle" fill="#ffffff"  >1.6</text>
<text x="616.02" y="208.86" font-size="6.25" font-weight="normal" text-anchor="middle" fill="#ffffff"  >5.8</text>
<rect x="503.5" y="131.2" width="128.60000000000002" height="85.5" fill="none" stroke="#111" stroke-width="1.2"/>
<line x1="499.0" y1="142.39" x2="503.5" y2="142.39" stroke="#1a1a1a" stroke-width="1.1"/>
<text x="498.00" y="144.99" font-size="7.2" font-weight="bold" text-anchor="end" fill="#111" stroke="#111" stroke-width="0.08" >0</text>
<line x1="499.0" y1="163.76" x2="503.5" y2="163.76" stroke="#1a1a1a" stroke-width="1.1"/>
<text x="498.00" y="166.36" font-size="7.2" font-weight="bold" text-anchor="end" fill="#111" stroke="#111" stroke-width="0.08" >1</text>
<line x1="499.0" y1="185.14" x2="503.5" y2="185.14" stroke="#1a1a1a" stroke-width="1.1"/>
<text x="498.00" y="187.74" font-size="7.2" font-weight="bold" text-anchor="end" fill="#111" stroke="#111" stroke-width="0.08" >2</text>
<line x1="499.0" y1="206.51" x2="503.5" y2="206.51" stroke="#1a1a1a" stroke-width="1.1"/>
<text x="498.00" y="209.11" font-size="7.2" font-weight="bold" text-anchor="end" fill="#111" stroke="#111" stroke-width="0.08" >3</text>
<line x1="519.58" y1="216.7" x2="519.58" y2="221.2" stroke="#1a1a1a" stroke-width="1.1"/>
<text x="519.58" y="229.90" font-size="7.8" font-weight="bold" text-anchor="middle" fill="#111" stroke="#111" stroke-width="0.08" >0</text>
<line x1="551.73" y1="216.7" x2="551.73" y2="221.2" stroke="#1a1a1a" stroke-width="1.1"/>
<text x="551.73" y="229.90" font-size="7.8" font-weight="bold" text-anchor="middle" fill="#111" stroke="#111" stroke-width="0.08" >2</text>
<line x1="583.88" y1="216.7" x2="583.88" y2="221.2" stroke="#1a1a1a" stroke-width="1.1"/>
<text x="583.88" y="229.90" font-size="7.8" font-weight="bold" text-anchor="middle" fill="#111" stroke="#111" stroke-width="0.08" >4</text>
<line x1="616.02" y1="216.7" x2="616.02" y2="221.2" stroke="#1a1a1a" stroke-width="1.1"/>
<text x="616.02" y="229.90" font-size="7.8" font-weight="bold" text-anchor="middle" fill="#111" stroke="#111" stroke-width="0.08" >8</text>
<text x="512.30" y="128.30" font-size="8.3" font-weight="bold" text-anchor="start" fill="#111" stroke="#111" stroke-width="0.08" >Chi-Square = 29.319 <tspan font-style="italic">P</tspan> &lt; 0.001</text>
<text transform="translate(476.10,174.20) rotate(-90)" font-size="9.1" font-weight="bold" text-anchor="middle" fill="#111" stroke="#111" stroke-width="0.08">Piglets DS, L14</text>
<text x="453.80" y="138.40" font-size="12.8" font-weight="bold" text-anchor="start" fill="#111" stroke="#111" stroke-width="0.08" >F</text>
<rect x="645.7" y="131.2" width="13.899999999999977" height="85.5" fill="url(#pl)" stroke="#111" stroke-width="1.1"/>
<text x="664.60" y="219.80" font-size="8.8" font-weight="normal" text-anchor="start" fill="#1a1a1a" stroke="#1a1a1a" stroke-width="0.12" >0</text>
<line x1="645.7" y1="199.60" x2="647.7" y2="199.60" stroke="#111" stroke-width="1"/>
<line x1="657.6" y1="199.60" x2="659.6" y2="199.60" stroke="#111" stroke-width="1"/>
<text x="664.60" y="202.70" font-size="8.8" font-weight="normal" text-anchor="start" fill="#1a1a1a" stroke="#1a1a1a" stroke-width="0.12" >20</text>
<line x1="645.7" y1="182.50" x2="647.7" y2="182.50" stroke="#111" stroke-width="1"/>
<line x1="657.6" y1="182.50" x2="659.6" y2="182.50" stroke="#111" stroke-width="1"/>
<text x="664.60" y="185.60" font-size="8.8" font-weight="normal" text-anchor="start" fill="#1a1a1a" stroke="#1a1a1a" stroke-width="0.12" >40</text>
<line x1="645.7" y1="165.40" x2="647.7" y2="165.40" stroke="#111" stroke-width="1"/>
<line x1="657.6" y1="165.40" x2="659.6" y2="165.40" stroke="#111" stroke-width="1"/>
<text x="664.60" y="168.50" font-size="8.8" font-weight="normal" text-anchor="start" fill="#1a1a1a" stroke="#1a1a1a" stroke-width="0.12" >60</text>
<line x1="645.7" y1="148.30" x2="647.7" y2="148.30" stroke="#111" stroke-width="1"/>
<line x1="657.6" y1="148.30" x2="659.6" y2="148.30" stroke="#111" stroke-width="1"/>
<text x="664.60" y="151.40" font-size="8.8" font-weight="normal" text-anchor="start" fill="#1a1a1a" stroke="#1a1a1a" stroke-width="0.12" >80</text>
<text x="664.60" y="134.30" font-size="8.8" font-weight="normal" text-anchor="start" fill="#1a1a1a" stroke="#1a1a1a" stroke-width="0.12" >100</text>
<text x="637.10" y="227.90" font-size="8.7" font-weight="bold" text-anchor="start" fill="#111" stroke="#111" stroke-width="0.08" >Percent, %</text>
<rect x="503.50" y="256.80" width="32.45" height="21.68" fill="#bb3488"/>
<rect x="535.65" y="256.80" width="32.45" height="21.68" fill="#bd3786"/>
<rect x="567.80" y="256.80" width="32.45" height="21.68" fill="#dc5d67"/>
<rect x="599.95" y="256.80" width="32.45" height="21.68" fill="#ca457a"/>
<rect x="503.50" y="278.18" width="32.45" height="21.68" fill="#7e03a8"/>
<rect x="535.65" y="278.18" width="32.45" height="21.68" fill="#8004a8"/>
<rect x="567.80" y="278.18" width="32.45" height="21.68" fill="#6001a6"/>
<rect x="599.95" y="278.18" width="32.45" height="21.68" fill="#7401a8"/>
<rect x="503.50" y="299.55" width="32.45" height="21.68" fill="#7e03a8"/>
<rect x="535.65" y="299.55" width="32.45" height="21.68" fill="#7801a8"/>
<rect x="567.80" y="299.55" width="32.45" height="21.68" fill="#7e03a8"/>
<rect x="599.95" y="299.55" width="32.45" height="21.68" fill="#8004a8"/>
<rect x="503.50" y="320.93" width="32.45" height="21.68" fill="#310597"/>
<rect x="535.65" y="320.93" width="32.45" height="21.68" fill="#310597"/>
<rect x="567.80" y="320.93" width="32.45" height="21.68" fill="#0d0887"/>
<rect x="599.95" y="320.93" width="32.45" height="21.68" fill="#20068f"/>
<text x="519.58" y="270.34" font-size="6.25" font-weight="normal" text-anchor="middle" fill="#ffffff"  >43.5</text>
<text x="551.73" y="270.34" font-size="6.25" font-weight="normal" text-anchor="middle" fill="#ffffff"  >44.4</text>
<text x="583.88" y="270.34" font-size="6.25" font-weight="normal" text-anchor="middle" fill="#1a1a1a"  >57.8</text>
<text x="616.02" y="270.34" font-size="6.25" font-weight="normal" text-anchor="middle" fill="#1a1a1a"  >49.3</text>
<text x="519.58" y="291.71" font-size="6.25" font-weight="normal" text-anchor="middle" fill="#ffffff"  >25.0</text>
<text x="551.73" y="291.71" font-size="6.25" font-weight="normal" text-anchor="middle" fill="#ffffff"  >25.4</text>
<text x="583.88" y="291.71" font-size="6.25" font-weight="normal" text-anchor="middle" fill="#ffffff"  >17.2</text>
<text x="616.02" y="291.71" font-size="6.25" font-weight="normal" text-anchor="middle" fill="#ffffff"  >22.4</text>
<text x="519.58" y="313.09" font-size="6.25" font-weight="normal" text-anchor="middle" fill="#ffffff"  >25.0</text>
<text x="551.73" y="313.09" font-size="6.25" font-weight="normal" text-anchor="middle" fill="#ffffff"  >23.8</text>
<text x="583.88" y="313.09" font-size="6.25" font-weight="normal" text-anchor="middle" fill="#ffffff"  >25.0</text>
<text x="616.02" y="313.09" font-size="6.25" font-weight="normal" text-anchor="middle" fill="#ffffff"  >25.4</text>
<text x="519.58" y="334.46" font-size="6.25" font-weight="normal" text-anchor="middle" fill="#ffffff"  >6.5</text>
<text x="551.73" y="334.46" font-size="6.25" font-weight="normal" text-anchor="middle" fill="#ffffff"  >6.4</text>
<text x="583.88" y="334.46" font-size="6.25" font-weight="normal" text-anchor="middle" fill="#ffffff"  >0</text>
<text x="616.02" y="334.46" font-size="6.25" font-weight="normal" text-anchor="middle" fill="#ffffff"  >3.0</text>
<rect x="503.5" y="256.8" width="128.60000000000002" height="85.5" fill="none" stroke="#111" stroke-width="1.2"/>
<line x1="499.0" y1="267.99" x2="503.5" y2="267.99" stroke="#1a1a1a" stroke-width="1.1"/>
<text x="498.00" y="270.59" font-size="7.2" font-weight="bold" text-anchor="end" fill="#111" stroke="#111" stroke-width="0.08" >0</text>
<line x1="499.0" y1="289.36" x2="503.5" y2="289.36" stroke="#1a1a1a" stroke-width="1.1"/>
<text x="498.00" y="291.96" font-size="7.2" font-weight="bold" text-anchor="end" fill="#111" stroke="#111" stroke-width="0.08" >1</text>
<line x1="499.0" y1="310.74" x2="503.5" y2="310.74" stroke="#1a1a1a" stroke-width="1.1"/>
<text x="498.00" y="313.34" font-size="7.2" font-weight="bold" text-anchor="end" fill="#111" stroke="#111" stroke-width="0.08" >2</text>
<line x1="499.0" y1="332.11" x2="503.5" y2="332.11" stroke="#1a1a1a" stroke-width="1.1"/>
<text x="498.00" y="334.71" font-size="7.2" font-weight="bold" text-anchor="end" fill="#111" stroke="#111" stroke-width="0.08" >3</text>
<line x1="519.58" y1="342.3" x2="519.58" y2="346.8" stroke="#1a1a1a" stroke-width="1.1"/>
<text x="519.58" y="355.50" font-size="7.8" font-weight="bold" text-anchor="middle" fill="#111" stroke="#111" stroke-width="0.08" >0</text>
<line x1="551.73" y1="342.3" x2="551.73" y2="346.8" stroke="#1a1a1a" stroke-width="1.1"/>
<text x="551.73" y="355.50" font-size="7.8" font-weight="bold" text-anchor="middle" fill="#111" stroke="#111" stroke-width="0.08" >2</text>
<line x1="583.88" y1="342.3" x2="583.88" y2="346.8" stroke="#1a1a1a" stroke-width="1.1"/>
<text x="583.88" y="355.50" font-size="7.8" font-weight="bold" text-anchor="middle" fill="#111" stroke="#111" stroke-width="0.08" >4</text>
<line x1="616.02" y1="342.3" x2="616.02" y2="346.8" stroke="#1a1a1a" stroke-width="1.1"/>
<text x="616.02" y="355.50" font-size="7.8" font-weight="bold" text-anchor="middle" fill="#111" stroke="#111" stroke-width="0.08" >8</text>
<text x="513.80" y="252.70" font-size="8.3" font-weight="bold" text-anchor="start" fill="#111" stroke="#111" stroke-width="0.08" >Chi-Square = 7.902 <tspan font-style="italic">P</tspan> = 0.538</text>
<text transform="translate(476.10,299.30) rotate(-90)" font-size="9.1" font-weight="bold" text-anchor="middle" fill="#111" stroke="#111" stroke-width="0.08">Piglets DS, L21</text>
<text x="453.80" y="266.60" font-size="12.8" font-weight="bold" text-anchor="start" fill="#111" stroke="#111" stroke-width="0.08" >G</text>
<rect x="645.7" y="256.8" width="13.899999999999977" height="85.5" fill="url(#pl)" stroke="#111" stroke-width="1.1"/>
<text x="664.60" y="345.40" font-size="8.8" font-weight="normal" text-anchor="start" fill="#1a1a1a" stroke="#1a1a1a" stroke-width="0.12" >0</text>
<line x1="645.7" y1="325.20" x2="647.7" y2="325.20" stroke="#111" stroke-width="1"/>
<line x1="657.6" y1="325.20" x2="659.6" y2="325.20" stroke="#111" stroke-width="1"/>
<text x="664.60" y="328.30" font-size="8.8" font-weight="normal" text-anchor="start" fill="#1a1a1a" stroke="#1a1a1a" stroke-width="0.12" >20</text>
<line x1="645.7" y1="308.10" x2="647.7" y2="308.10" stroke="#111" stroke-width="1"/>
<line x1="657.6" y1="308.10" x2="659.6" y2="308.10" stroke="#111" stroke-width="1"/>
<text x="664.60" y="311.20" font-size="8.8" font-weight="normal" text-anchor="start" fill="#1a1a1a" stroke="#1a1a1a" stroke-width="0.12" >40</text>
<line x1="645.7" y1="291.00" x2="647.7" y2="291.00" stroke="#111" stroke-width="1"/>
<line x1="657.6" y1="291.00" x2="659.6" y2="291.00" stroke="#111" stroke-width="1"/>
<text x="664.60" y="294.10" font-size="8.8" font-weight="normal" text-anchor="start" fill="#1a1a1a" stroke="#1a1a1a" stroke-width="0.12" >60</text>
<line x1="645.7" y1="273.90" x2="647.7" y2="273.90" stroke="#111" stroke-width="1"/>
<line x1="657.6" y1="273.90" x2="659.6" y2="273.90" stroke="#111" stroke-width="1"/>
<text x="664.60" y="277.00" font-size="8.8" font-weight="normal" text-anchor="start" fill="#1a1a1a" stroke="#1a1a1a" stroke-width="0.12" >80</text>
<text x="664.60" y="259.90" font-size="8.8" font-weight="normal" text-anchor="start" fill="#1a1a1a" stroke="#1a1a1a" stroke-width="0.12" >100</text>
<text x="635.60" y="352.70" font-size="8.7" font-weight="bold" text-anchor="start" fill="#111" stroke="#111" stroke-width="0.08" >Percent, %</text>
<text x="567.80" y="369.20" font-size="8.9" font-weight="bold" text-anchor="middle" fill="#111" stroke="#111" stroke-width="0.08" >NR supplement, g/d</text>
</svg>
</body></html>
